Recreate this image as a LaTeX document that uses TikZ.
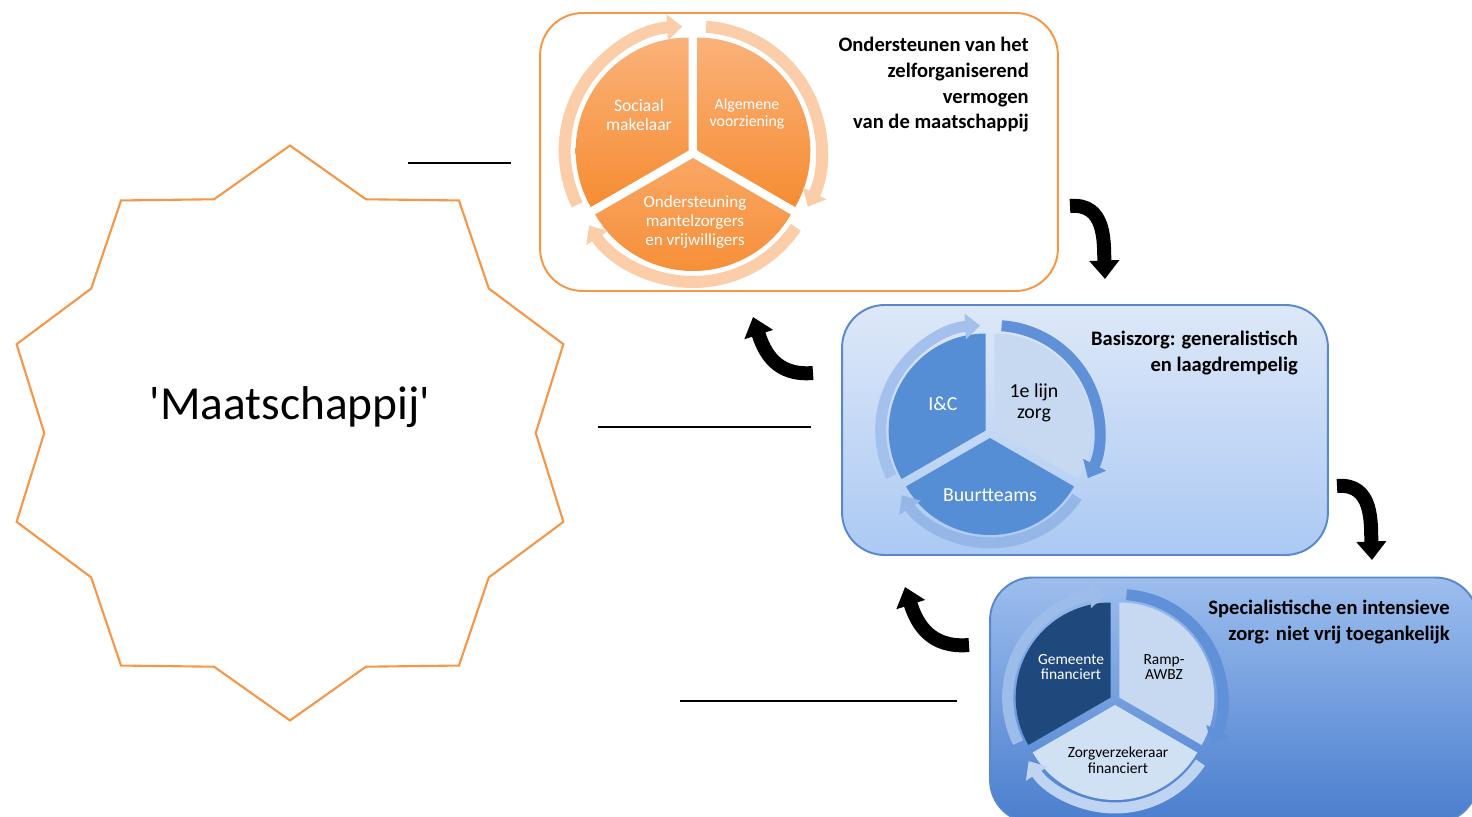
\documentclass[tikz,border=0pt]{standalone}
\usepackage{fontspec}
\setmainfont{Carlito}
\usetikzlibrary{arrows.meta,shapes.geometric}

\definecolor{oranje}{HTML}{F79646}
\definecolor{oranjelicht}{HTML}{FAB27A}
\definecolor{oranjedonker}{HTML}{F68C32}
\definecolor{perzik}{HTML}{FBCDA8}
\definecolor{blauwrand}{HTML}{5A88CC}
\definecolor{kaderlicht}{HTML}{DDE8F8}
\definecolor{kadermidden}{HTML}{ABC9F3}
\definecolor{kaderdonker}{HTML}{4A7ECE}
\definecolor{middenblauw}{HTML}{558ED5}
\definecolor{grijsblauw}{HTML}{C6D9F1}
\definecolor{donkerblauw}{HTML}{1F497D}
\definecolor{bandlicht}{HTML}{A3C1EC}
\definecolor{banddonker}{HTML}{5F90D8}

\tikzset{
  kader/.style={rounded corners=0.85cm, line width=1.1pt},
  streep/.style={line width=1.7pt},
  zwartepijl/.style={line width=0.28cm, -{Triangle[length=0.37cm,width=0.58cm]}},
  band/.style={line width=0.22cm, -{Triangle[length=0.3cm,width=0.5cm]}},
  titel/.style={align=right, font=\bfseries\fontsize{11.7}{14.6}\selectfont},
}

\begin{document}
\begin{tikzpicture}[x=0.02cm,y=0.02cm]
\useasboundingbox (0,0) rectangle (1472,816);

% ster met maatschappij
\node[draw=oranje, line width=1.2pt, star, star points=10, star point ratio=1.17,
      minimum size=11.5cm, inner sep=0pt] (ster) at (290,383) {};
\node[font=\fontsize{27}{32}\selectfont] (maat) at (290,409) {\textquotesingle Maatschappij\textquotesingle};

% streepjes
\coordinate (s1a) at (408,653); \coordinate (s1b) at (511,653);
\coordinate (s2a) at (598,389); \coordinate (s2b) at (811,389);
\coordinate (s3a) at (680,115); \coordinate (s3b) at (957,115);
\draw[streep] (s1a) -- (s1b);
\draw[streep] (s2a) -- (s2b);
\draw[streep] (s3a) -- (s3b);

% kaders
\node[kader, draw=oranje, fill=white, minimum width=10.36cm, minimum height=5.56cm] (kader1) at (799,664) {};
\node[kader, draw=blauwrand, top color=kaderlicht, bottom color=kadermidden,
      minimum width=9.72cm, minimum height=5cm] (kader2) at (1085,386) {};
\node[kader, draw=blauwrand, top color=kadermidden!85!kaderdonker, bottom color=kaderdonker,
      minimum width=9.76cm, minimum height=4.9cm] (kader3) at (1234,116) {};

\node[titel, anchor=east] (titel1) at (1035,731) {Ondersteunen van het\\zelforganiserend\\vermogen\\van de maatschappij};
\node[titel, anchor=east] (titel2) at (1304,463) {Basiszorg: generalistisch\\en laagdrempelig};
\node[titel, anchor=east] (titel3) at (1456,194) {Specialistische en intensieve\\zorg: niet vrij toegankelijk};

% cirkel 1
\begin{scope}[shift={(693,663)}]
  \shade[top color=oranjelicht, bottom color=oranjedonker] (150:5) -- ++(90:113) arc[start angle=90, end angle=210, radius=113] -- cycle;
  \shade[top color=oranjelicht, bottom color=oranjedonker] (30:5) -- ++(-30:113) arc[start angle=-30, end angle=90, radius=113] -- cycle;
  \shade[top color=oranjelicht!70!oranjedonker, bottom color=oranjedonker] (270:5) -- ++(210:113) arc[start angle=210, end angle=330, radius=113] -- cycle;
  \draw[band, line width=0.24cm, draw=perzik] (150:5) ++(206:124) arc[start angle=206, end angle=93, radius=124];
  \draw[band, line width=0.24cm, draw=perzik] (30:5) ++(86:124) arc[start angle=86, end angle=-27, radius=124];
  \draw[band, line width=0.24cm, draw=perzik] (270:5) ++(-34:124) arc[start angle=-34, end angle=-147, radius=124];
  \node[align=center, text=white, font=\fontsize{10}{10.8}\selectfont] (sociaal) at (-54,38) {Sociaal\\makelaar};
  \node[align=center, text=white, font=\fontsize{9}{9.6}\selectfont] (algemeen) at (54,39) {Algemene\\voorziening};
  \node[align=center, text=white, font=\fontsize{9.7}{10.8}\selectfont] (mantel) at (2,-69) {Ondersteuning\\mantelzorgers\\en vrijwilligers};
\end{scope}

% cirkel 2
\begin{scope}[shift={(990,383)}]
  \fill[middenblauw] (150:5) -- ++(90:97) arc[start angle=90, end angle=210, radius=97] -- cycle;
  \fill[grijsblauw] (30:5) -- ++(-30:97) arc[start angle=-30, end angle=90, radius=97] -- cycle;
  \fill[middenblauw] (270:5) -- ++(210:97) arc[start angle=210, end angle=330, radius=97] -- cycle;
  \draw[band, draw=bandlicht] (150:5) ++(206:105) arc[start angle=206, end angle=93, radius=105];
  \draw[band, draw=banddonker] (30:5) ++(86:105) arc[start angle=86, end angle=-27, radius=105];
  \draw[band, draw=bandlicht!80!banddonker] (270:5) ++(-34:105) arc[start angle=-34, end angle=-147, radius=105];
  \node[text=white, font=\fontsize{11.3}{12}\selectfont] (ic) at (-47,29) {I\&C};
  \node[align=center, font=\fontsize{11.3}{11.9}\selectfont] (eerstelijn) at (44,30) {1e lijn\\zorg};
  \node[text=white, font=\fontsize{11.3}{12}\selectfont] (buurt) at (0,-62) {Buurtteams};
\end{scope}

% cirkel 3
\begin{scope}[shift={(1115,116)}]
  \fill[donkerblauw] (150:5) -- ++(90:95) arc[start angle=90, end angle=210, radius=95] -- cycle;
  \fill[grijsblauw] (30:5) -- ++(-30:95) arc[start angle=-30, end angle=90, radius=95] -- cycle;
  \fill[grijsblauw!80!white] (270:5) -- ++(210:95) arc[start angle=210, end angle=330, radius=95] -- cycle;
  \draw[band, draw=bandlicht!90!banddonker] (150:5) ++(206:103) arc[start angle=206, end angle=93, radius=103];
  \draw[band, draw=banddonker] (30:5) ++(86:103) arc[start angle=86, end angle=-27, radius=103];
  \draw[band, draw=bandlicht!70!white] (270:5) ++(-34:103) arc[start angle=-34, end angle=-147, radius=103];
  \node[align=center, text=white, font=\fontsize{8.8}{8.8}\selectfont] (gemeente) at (-44,33) {Gemeente\\financiert};
  \node[align=center, font=\fontsize{8.8}{8.8}\selectfont] (ramp) at (49,33) {Ramp-\\AWBZ};
  \node[align=center, font=\fontsize{8.8}{8.8}\selectfont] (zorgverz) at (3,-60) {Zorgverzekeraar\\financiert};
\end{scope}

% zwarte pijlen
\coordinate (p1a) at (1070,610); \coordinate (p1b) at (1105,537);
\coordinate (p2a) at (813,443); \coordinate (p2b) at (753,499);
\coordinate (p3a) at (1337,330); \coordinate (p3b) at (1372,256);
\coordinate (p4a) at (969,171); \coordinate (p4b) at (905,229);
\draw[zwartepijl] (p1a) to[out=5,in=92,looseness=1.15] (p1b);
\draw[zwartepijl] (p2a) to[out=185,in=-72,looseness=1.15] (p2b);
\draw[zwartepijl] (p3a) to[out=5,in=92,looseness=1.15] (p3b);
\draw[zwartepijl] (p4a) to[out=185,in=-72,looseness=1.15] (p4b);

\end{tikzpicture}
\end{document}
